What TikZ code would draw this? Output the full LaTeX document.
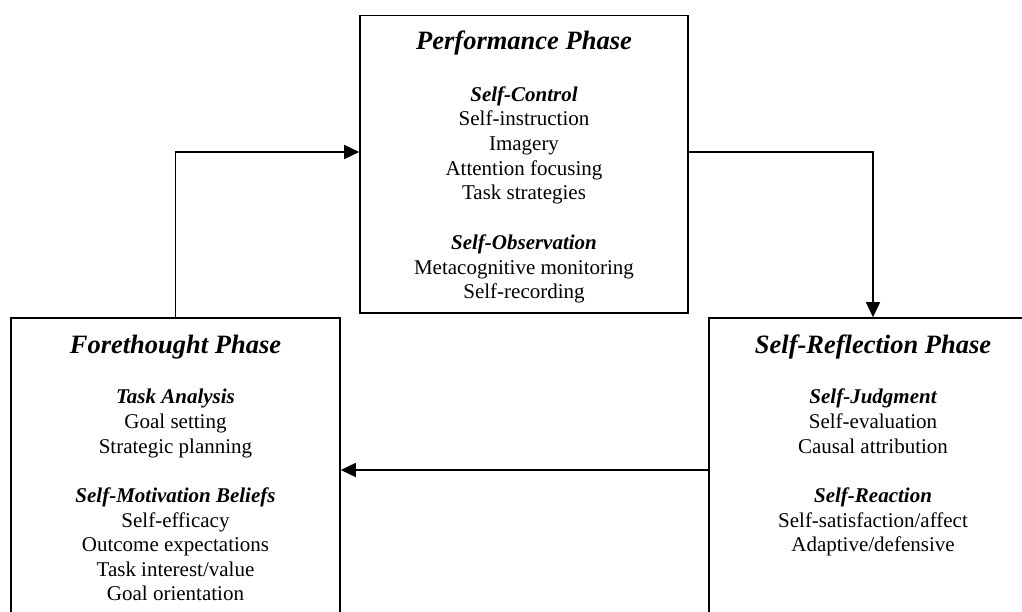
\documentclass[tikz,border=0pt]{standalone}
\usepackage{fontspec}
\setmainfont{Liberation Serif}
\usetikzlibrary{arrows.meta}
\begin{document}
\begin{tikzpicture}[x=1pt,y=-1pt,
  phasebox/.style={draw,line width=1.6pt,inner sep=0pt},
  ttl/.style={anchor=base,inner sep=0pt,font=\fontsize{26.5}{30}\selectfont\bfseries\itshape},
  hdr/.style={anchor=base,inner sep=0pt,font=\fontsize{21}{24.6}\selectfont\bfseries\itshape},
  itm/.style={anchor=base,inner sep=0pt,font=\fontsize{21}{24.6}\selectfont},
  arr/.style={line width=1.5pt,-{Triangle[length=15pt,width=14pt]}}]
\useasboundingbox (0,0) rectangle (1022,612);
\clip (0,0) rectangle (1022,612);
% boxes
\node[phasebox,minimum width=328pt,minimum height=297.4pt] (perf) at (524,164.3) {};
\node[phasebox,minimum width=329pt,minimum height=340pt] (ft) at (175.5,488) {};
\node[phasebox,minimum width=328pt,minimum height=340pt] (sr) at (873,488) {};
% level coordinates
\coordinate (lvlA) at (0,152);
\coordinate (lvlB) at (0,470);
% Performance phase texts
\node[ttl] (p0) at (524,49.5) {Performance Phase};
\node[hdr] (p1) at (524,101.5) {Self-Control};
\node[itm] (p2) at (524,126) {Self-instruction};
\node[itm] (p3) at (524,150.5) {Imagery};
\node[itm] (p4) at (524,175.5) {Attention focusing};
\node[itm] (p5) at (524,200) {Task strategies};
\node[hdr] (p6) at (524,249.5) {Self-Observation};
\node[itm] (p7) at (524,274) {Metacognitive monitoring};
\node[itm] (p8) at (524,298.5) {Self-recording};
% Forethought phase texts
\node[ttl] (f0) at (175.5,353) {Forethought Phase};
\node[hdr] (f1) at (175.5,403.5) {Task Analysis};
\node[itm] (f2) at (175.5,428.5) {Goal setting};
\node[itm] (f3) at (175.5,453) {Strategic planning};
\node[hdr] (f4) at (175.5,502.5) {Self-Motivation Beliefs};
\node[itm] (f5) at (175.5,527) {Self-efficacy};
\node[itm] (f6) at (175.5,551.5) {Outcome expectations};
\node[itm] (f7) at (175.5,576) {Task interest/value};
\node[itm] (f8) at (175.5,600) {Goal orientation};
% Self-reflection phase texts
\node[ttl] (s0) at (873,353) {Self-Reflection Phase};
\node[hdr] (s1) at (873,403.5) {Self-Judgment};
\node[itm] (s2) at (873,428.5) {Self-evaluation};
\node[itm] (s3) at (873,453) {Causal attribution};
\node[hdr] (s4) at (873,502.5) {Self-Reaction};
\node[itm] (s5) at (873,527) {Self-satisfaction/affect};
\node[itm] (s6) at (873,551.5) {Adaptive/defensive};
% connectors
\draw[arr] (ft.north) |- (perf.west|-lvlA);
\draw[arr] (perf.east|-lvlA) -| (sr.north);
\draw[arr] (sr.west|-lvlB) -- (ft.east|-lvlB);
\end{tikzpicture}
\end{document}
